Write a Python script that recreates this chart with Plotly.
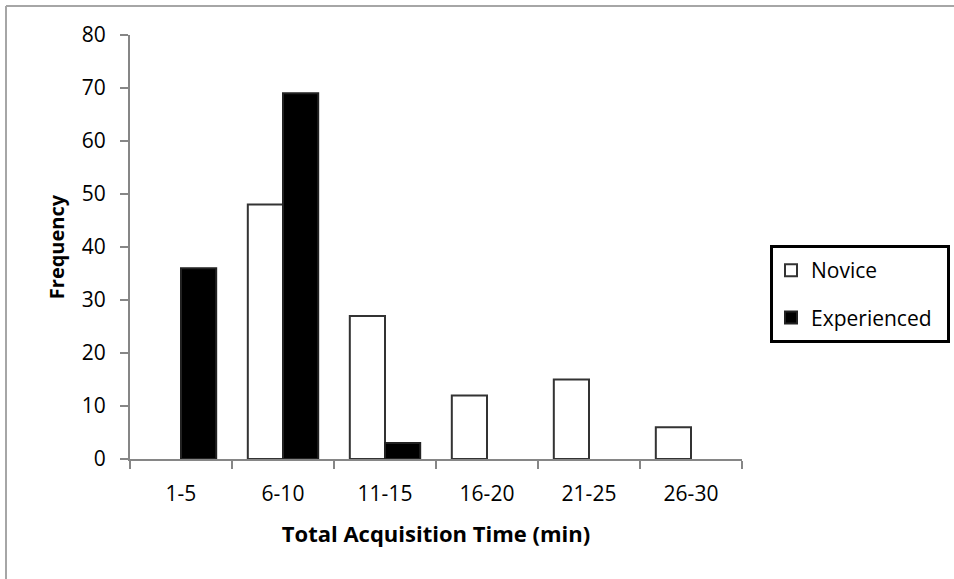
import plotly.graph_objects as go

# Frequency of total acquisition time, by operator experience
categories = ["1-5", "6-10", "11-15", "16-20", "21-25", "26-30"]
novice = [0, 48, 27, 12, 15, 6]
experienced = [36, 69, 3, 0, 0, 0]
y_ticks = [0, 10, 20, 30, 40, 50, 60, 70, 80]

W, H = 954, 579
L, R, T, B = 130, 742, 35, 459  # plot-area edges in pixels

FONT = "'Open Sans', Lato, sans-serif"
AXIS = "#868686"


def nonzero(values):
    # empty bins are left blank rather than drawn as a flat outline
    return [v if v else None for v in values]


fig = go.Figure()
fig.add_trace(go.Bar(
    x=categories, y=nonzero(novice), name="Novice", legendgroup="n",
    marker=dict(color="white", line=dict(color="#333333", width=2)),
))
fig.add_trace(go.Bar(
    x=categories, y=nonzero(experienced), name="Experienced", legendgroup="e",
    marker=dict(color="black", line=dict(color="#222222", width=2)),
))


def px_x(p):
    return (p - L) / (R - L)


def px_y(p):
    return (B - p) / (B - T)


fig.update_layout(
    width=W, height=H,
    margin=dict(l=L, r=W - R, t=T, b=H - B, pad=0),
    paper_bgcolor="white", plot_bgcolor="white",
    barmode="group", bargap=0.31, bargroupgap=0,
    font=dict(family=FONT, size=20, color="black"),
    showlegend=True,
    legend=dict(
        x=px_x(771), y=px_y(250), xanchor="left", yanchor="top",
        borderwidth=0, bgcolor="rgba(0,0,0,0)",
        font=dict(size=21), traceorder="grouped", tracegroupgap=17,
    ),
    xaxis=dict(
        type="category", range=[-0.5, 5.5], showgrid=False,
        showline=True, linecolor=AXIS, linewidth=2,
        ticks="outside", tickson="boundaries", ticklen=8, tickcolor=AXIS, tickwidth=2,
        tickfont=dict(size=21), ticklabelstandoff=15,
        title=dict(text="<b>Total Acquisition Time (min)</b>", font=dict(size=22), standoff=20),
    ),
    yaxis=dict(
        range=[0, 80], tickvals=y_ticks, showgrid=False, zeroline=False,
        showline=True, linecolor=AXIS, linewidth=2,
        ticks="outside", ticklen=8, tickcolor=AXIS, tickwidth=2,
        tickfont=dict(size=21), ticklabelstandoff=10,
        title=dict(text="<b>Frequency</b>", font=dict(size=20), standoff=12),
    ),
    shapes=[
        # chart frame (top and left edges)
        dict(type="line", xref="paper", yref="paper",
             x0=px_x(6), x1=px_x(970), y0=px_y(6), y1=px_y(6),
             line=dict(color="#a6a6a6", width=2)),
        dict(type="line", xref="paper", yref="paper",
             x0=px_x(6), x1=px_x(6), y0=px_y(6), y1=px_y(600),
             line=dict(color="#a6a6a6", width=2)),
        # legend box
        dict(type="rect", xref="paper", yref="paper",
             x0=px_x(771.5), x1=px_x(948.5), y0=px_y(246.5), y1=px_y(341.5),
             line=dict(color="black", width=3), fillcolor="rgba(0,0,0,0)"),
    ],
)

fig.write_html("out.html")
